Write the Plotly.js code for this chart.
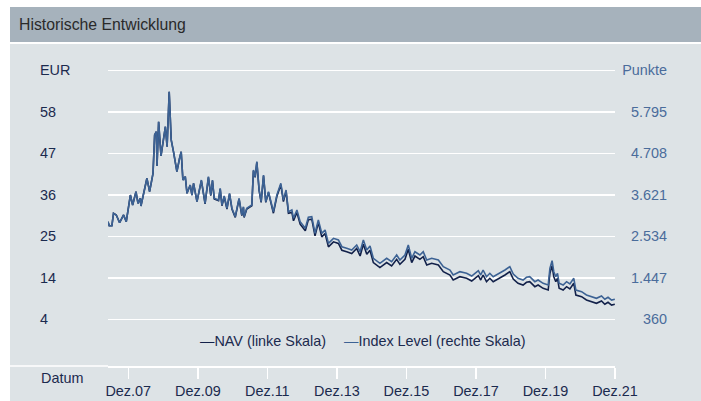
<!DOCTYPE html>
<html>
<head>
<meta charset="utf-8">
<script src="https://cdn.plot.ly/plotly-3.0.1.min.js"></script>
<style>html,body{margin:0;padding:0;background:#fff;}#chart{width:701px;height:401px;}</style>
</head>
<body>
<div id="chart"></div>
<script>
// ---- data ----
var dates = ['2007-06-01','2007-06-14','2007-07-12','2007-07-29','2007-08-27','2007-10-01','2007-11-12','2007-12-10',
'2008-01-22','2008-02-15','2008-03-21','2008-04-11','2008-05-05','2008-05-12','2008-07-14','2008-08-11','2008-09-16','2008-10-03','2008-10-21','2008-10-28','2008-11-14','2008-12-09',
'2009-01-24','2009-02-11','2009-03-05','2009-03-26','2009-04-19','2009-05-25','2009-06-22','2009-07-09','2009-07-27','2009-08-21','2009-09-08','2009-10-12','2009-10-30','2009-11-16','2009-12-22',
'2010-02-06','2010-03-17','2010-04-21','2010-05-16','2010-06-03','2010-06-21','2010-08-05','2010-08-23','2010-09-10','2010-10-04','2010-11-02','2010-11-29','2010-12-24',
'2011-01-28','2011-03-09','2011-04-07','2011-04-24','2011-05-01','2011-05-29','2011-07-21','2011-08-07','2011-08-25','2011-09-12','2011-10-06','2011-10-27','2011-11-21','2011-12-15',
'2012-01-12','2012-03-04','2012-04-09','2012-05-21','2012-06-17','2012-07-15','2012-08-09','2012-09-14','2012-10-01','2012-11-06','2012-12-10',
'2013-02-02','2013-03-06','2013-04-11','2013-05-15','2013-06-19','2013-07-25','2013-08-29','2013-10-03','2013-11-25',
'2014-01-16','2014-02-21','2014-04-13','2014-06-05','2014-07-27','2014-09-01','2014-10-05','2014-11-10','2014-12-14',
'2015-01-18','2015-03-28','2015-06-07','2015-07-29','2015-09-20','2015-10-24','2015-12-16',
'2016-01-20','2016-02-25','2016-03-30','2016-05-21','2016-06-25','2016-08-01','2016-09-22','2016-12-01',
'2017-01-22','2017-04-02','2017-05-06','2017-07-15','2017-09-24','2017-11-16','2017-12-21',
'2018-01-25','2018-02-19','2018-03-16','2018-04-21','2018-05-26','2018-06-30','2018-08-21','2018-09-26','2018-11-01','2018-12-22',
'2019-01-27','2019-03-18','2019-05-10','2019-06-15','2019-07-19','2019-09-11','2019-10-15','2019-12-07',
'2020-01-29','2020-02-16','2020-03-10','2020-03-28','2020-04-18','2020-05-06','2020-05-23','2020-07-04','2020-08-09','2020-09-13','2020-10-24','2020-11-15',
'2021-01-14','2021-03-06','2021-04-28','2021-06-19','2021-08-11','2021-09-15','2021-10-19','2021-11-25','2021-12-29'];

var navEUR = [29.16,28.11,28.11,31.36,30.92,28.90,30.92,29.16,
36.15,33.53,37.02,33.98,35.29,33.27,40.53,37.02,41.84,51.87,52.73,43.75,55.35,46.37,
54.04,48.80,63.21,50.56,47.49,42.26,45.77,47.49,40.08,40.95,36.60,38.77,36.15,39.22,34.40,
39.90,33.80,40.77,35.97,39.90,35.11,34.66,37.73,33.35,35.71,32.49,36.42,32.49,
30.29,35.11,30.74,32.91,30.29,32.49,33.35,42.52,40.77,44.70,37.28,34.22,41.21,34.22,
36.84,31.39,35.76,38.83,34.45,37.07,31.39,31.58,29.40,31.58,28.51,
26.78,29.66,29.82,25.47,28.96,25.20,26.07,22.58,23.89,
23.45,21.69,21.27,20.83,22.14,20.17,23.24,20.62,21.67,
18.45,17.14,18.45,17.56,19.31,18.00,19.31,
21.93,18.45,20.17,19.31,19.99,17.82,18.27,17.82,
16.07,15.20,13.89,14.76,14.34,13.63,14.34,
15.02,13.89,15.20,13.45,14.34,13.45,14.15,14.76,15.20,16.07,
14.15,13.03,12.58,13.29,13.45,12.14,12.58,11.72,
11.27,15.65,17.64,14.76,13.45,14.34,11.72,11.27,12.14,11.54,13.03,9.96,
9.52,8.65,8.21,7.79,8.39,7.53,8.05,7.34,7.53];

var indexPts = [2916,2811,2811,3136,3092,2890,3092,2916,
3615,3353,3702,3398,3529,3327,4053,3702,4184,5187,5273,4375,5535,4637,
5404,4880,6321,5056,4749,4226,4577,4749,4008,4095,3660,3877,3615,3922,3440,
4008,3398,4095,3615,4008,3529,3484,3791,3353,3589,3267,3660,3267,
3047,3529,3092,3309,3047,3267,3353,4270,4095,4488,3746,3440,4139,3440,
3702,3178,3615,3922,3484,3746,3178,3223,3005,3223,2916,
2743,3031,3047,2612,2961,2612,2699,2350,2481,
2437,2261,2219,2175,2306,2130,2437,2175,2280,
1958,1827,1958,1869,2044,1913,2044,
2306,1958,2130,2044,2130,1913,1958,1913,
1738,1651,1520,1607,1565,1494,1565,
1633,1520,1651,1476,1565,1476,1546,1607,1651,1738,
1546,1434,1389,1460,1476,1345,1389,1303,
1258,1696,1895,1607,1476,1565,1303,1258,1345,1285,1434,1127,
1083,996,952,910,970,884,936,865,884];

var leftTickVals = [3.60,14.47,25.34,36.21,47.08,57.95,68.82];
var leftTickText = ['4','14','25','36','47','58','EUR'];
var rightTickVals = [360,1447,2534,3621,4708,5795,6882];
var rightTickText = ['360','1.447','2.534','3.621','4.708','5.795','Punkte'];
var xTickVals = ['2007-12-31','2009-12-31','2011-12-31','2013-12-31','2015-12-31','2017-12-31','2019-12-31','2021-12-31'];
var xTickText = ['Dez.07','Dez.09','Dez.11','Dez.13','Dez.15','Dez.17','Dez.19','Dez.21'];
var seriesNames = ['NAV (linke Skala)','Index Level (rechte Skala)'];

// ---- layout geometry (pixels) ----
var FW = 701, FH = 401, ML = 36, MR = 31, MT = 60, MB = 35;
var PW = FW - ML - MR, PH = FH - MT - MB;
function px(x){ return (x - ML) / PW; }
function py(y){ return (FH - MB - y) / PH; }

var font = 'Liberation Sans, Arial, Helvetica, sans-serif';
var navColor = '#12214a', idxColor = '#3c6294', txtColor = '#1b2a4e', rightTxt = '#4a6c9b';

var traces = [
  {x: dates, y: navEUR, type: 'scatter', mode: 'lines', name: seriesNames[0],
   line: {color: navColor, width: 1.6}, yaxis: 'y', hoverinfo: 'skip'},
  {x: dates, y: indexPts, type: 'scatter', mode: 'lines', name: seriesNames[1],
   line: {color: idxColor, width: 1.6}, yaxis: 'y2', hoverinfo: 'skip'}
];

var layout = {
  width: FW, height: FH,
  margin: {l: ML, r: MR, t: MT, b: MB, pad: 0},
  paper_bgcolor: '#ffffff',
  plot_bgcolor: 'rgba(0,0,0,0)',
  showlegend: false,
  font: {family: font, size: 14.4, color: txtColor},
  xaxis: {
    type: 'date', domain: [px(108), px(615)], range: ['2007-06-01', '2021-12-31'],
    tickmode: 'array', tickvals: xTickVals, ticktext: xTickText,
    ticks: 'outside', ticklen: 11, tickwidth: 1.5, tickcolor: '#ffffff',
    showline: true, linecolor: '#ffffff', linewidth: 1.5,
    showgrid: false, zeroline: false, fixedrange: true,
    tickfont: {family: font, size: 14.4, color: txtColor}
  },
  yaxis: {
    range: [-8.63, 71.51], anchor: 'free', position: 0,
    tickmode: 'array', tickvals: leftTickVals, ticktext: leftTickText,
    ticklabelposition: 'inside', ticks: '',
    showgrid: true, gridcolor: '#ffffff', gridwidth: 1.5,
    zeroline: false, showline: false, automargin: false, fixedrange: true,
    tickfont: {family: font, size: 14.4, color: txtColor}
  },
  yaxis2: {
    range: [-863, 7151], overlaying: 'y', side: 'right', anchor: 'free', position: 1,
    tickmode: 'array', tickvals: rightTickVals, ticktext: rightTickText,
    ticklabelposition: 'inside', ticks: '',
    showgrid: false, zeroline: false, showline: false, automargin: false, fixedrange: true,
    tickfont: {family: font, size: 14.4, color: rightTxt}
  },
  shapes: [
    {type: 'rect', xref: 'paper', yref: 'paper', x0: px(10), x1: px(702), y0: py(42), y1: py(7),
     fillcolor: '#a6b2bc', line: {width: 0}, layer: 'below'},
    {type: 'rect', xref: 'paper', yref: 'paper', x0: px(10), x1: px(702), y0: py(402), y1: py(44),
     fillcolor: '#dde3e6', line: {width: 0}, layer: 'below'},
    {type: 'line', xref: 'paper', yref: 'paper', x0: px(10), x1: px(108), y0: 0, y1: 0,
     line: {color: '#ffffff', width: 1.5}, layer: 'below'}
  ],
  annotations: [
    {xref: 'paper', yref: 'paper', x: px(17), y: py(25), xanchor: 'left', yanchor: 'middle',
     text: 'Historische Entwicklung', showarrow: false,
     font: {family: font, size: 15.8, color: '#2a2a2a'}},
    {xref: 'paper', yref: 'paper', x: px(39), y: py(378), xanchor: 'left', yanchor: 'middle',
     text: 'Datum', showarrow: false, font: {family: font, size: 14.4, color: txtColor}},
    {xref: 'paper', yref: 'paper', x: px(198), y: py(341), xanchor: 'left', yanchor: 'middle',
     text: '<span style="color:' + navColor + '">—</span>' + seriesNames[0], showarrow: false,
     font: {family: font, size: 14.4, color: txtColor}},
    {xref: 'paper', yref: 'paper', x: px(342), y: py(341), xanchor: 'left', yanchor: 'middle',
     text: '<span style="color:' + idxColor + '">—</span>' + seriesNames[1], showarrow: false,
     font: {family: font, size: 14.4, color: txtColor}}
  ]
};

Plotly.newPlot('chart', traces, layout, {staticPlot: true, displayModeBar: false});
</script>
</body>
</html>
